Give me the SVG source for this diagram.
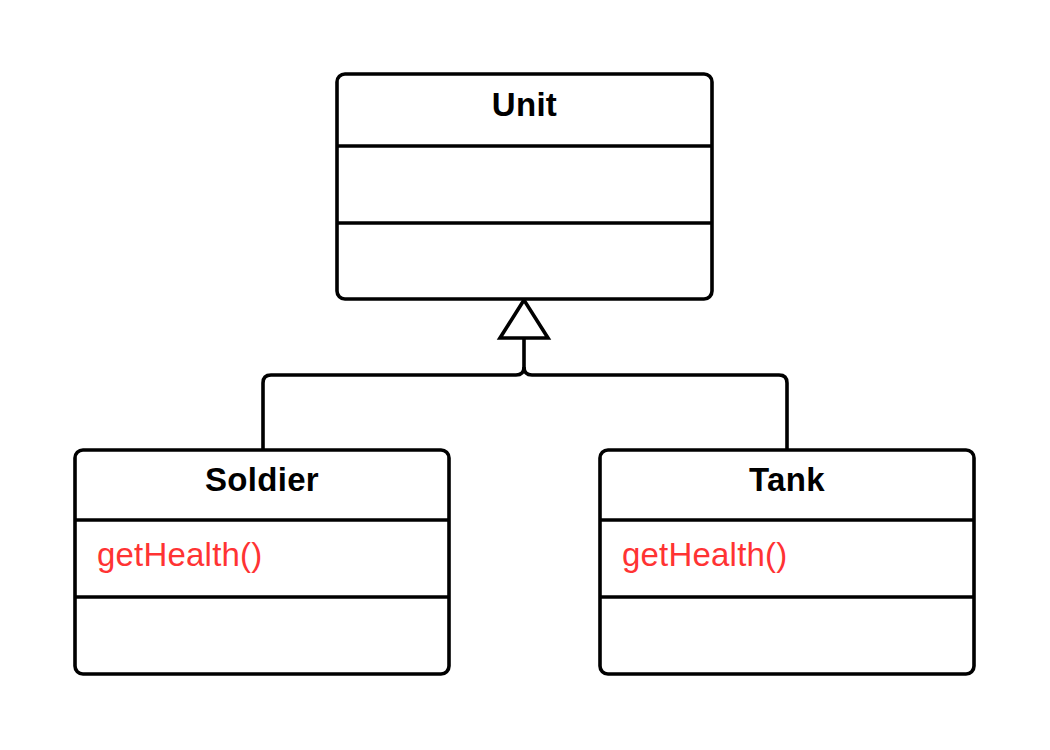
<svg xmlns="http://www.w3.org/2000/svg" width="1050" height="750" viewBox="0 0 1050 750">
<style>
.box{fill:#fff;stroke:#000;stroke-width:3.6}
.div{stroke:#000;stroke-width:3.6}
.title{font-family:"Liberation Sans",Arial,sans-serif;font-weight:bold;font-size:33px;fill:#000;text-anchor:middle;letter-spacing:0.3px}
.op{font-family:"Liberation Sans",Arial,sans-serif;font-size:33px;fill:#ff3333;letter-spacing:0.2px}
.conn{fill:none;stroke:#000;stroke-width:3.6}
</style>
<rect width="1050" height="750" fill="#fff"/>
<g id="connectors">
<path class="conn" d="M263,450 V383 Q263,375 271,375 H516 Q524,375 524,367 V338"/>
<path class="conn" d="M787,450 V383 Q787,375 779,375 H532 Q524,375 524,367"/>
<polygon class="conn" points="524,300 500,338 548,338" style="fill:#fff"/>
</g>
<g id="unit">
<rect class="box" x="337" y="74" width="375" height="225" rx="8"/>
<line class="div" x1="337" y1="146" x2="712" y2="146"/>
<line class="div" x1="337" y1="223" x2="712" y2="223"/>
<text class="title" x="524.5" y="116">Unit</text>
</g>
<g id="soldier">
<rect class="box" x="75" y="450" width="374" height="224" rx="8"/>
<line class="div" x1="75" y1="520" x2="449" y2="520"/>
<line class="div" x1="75" y1="597" x2="449" y2="597"/>
<text class="title" x="262" y="491">Soldier</text>
<text class="op" x="97" y="566">getHealth()</text>
</g>
<g id="tank">
<rect class="box" x="600" y="450" width="374" height="224" rx="8"/>
<line class="div" x1="600" y1="520" x2="974" y2="520"/>
<line class="div" x1="600" y1="597" x2="974" y2="597"/>
<text class="title" x="787" y="491">Tank</text>
<text class="op" x="622" y="566">getHealth()</text>
</g>
</svg>
